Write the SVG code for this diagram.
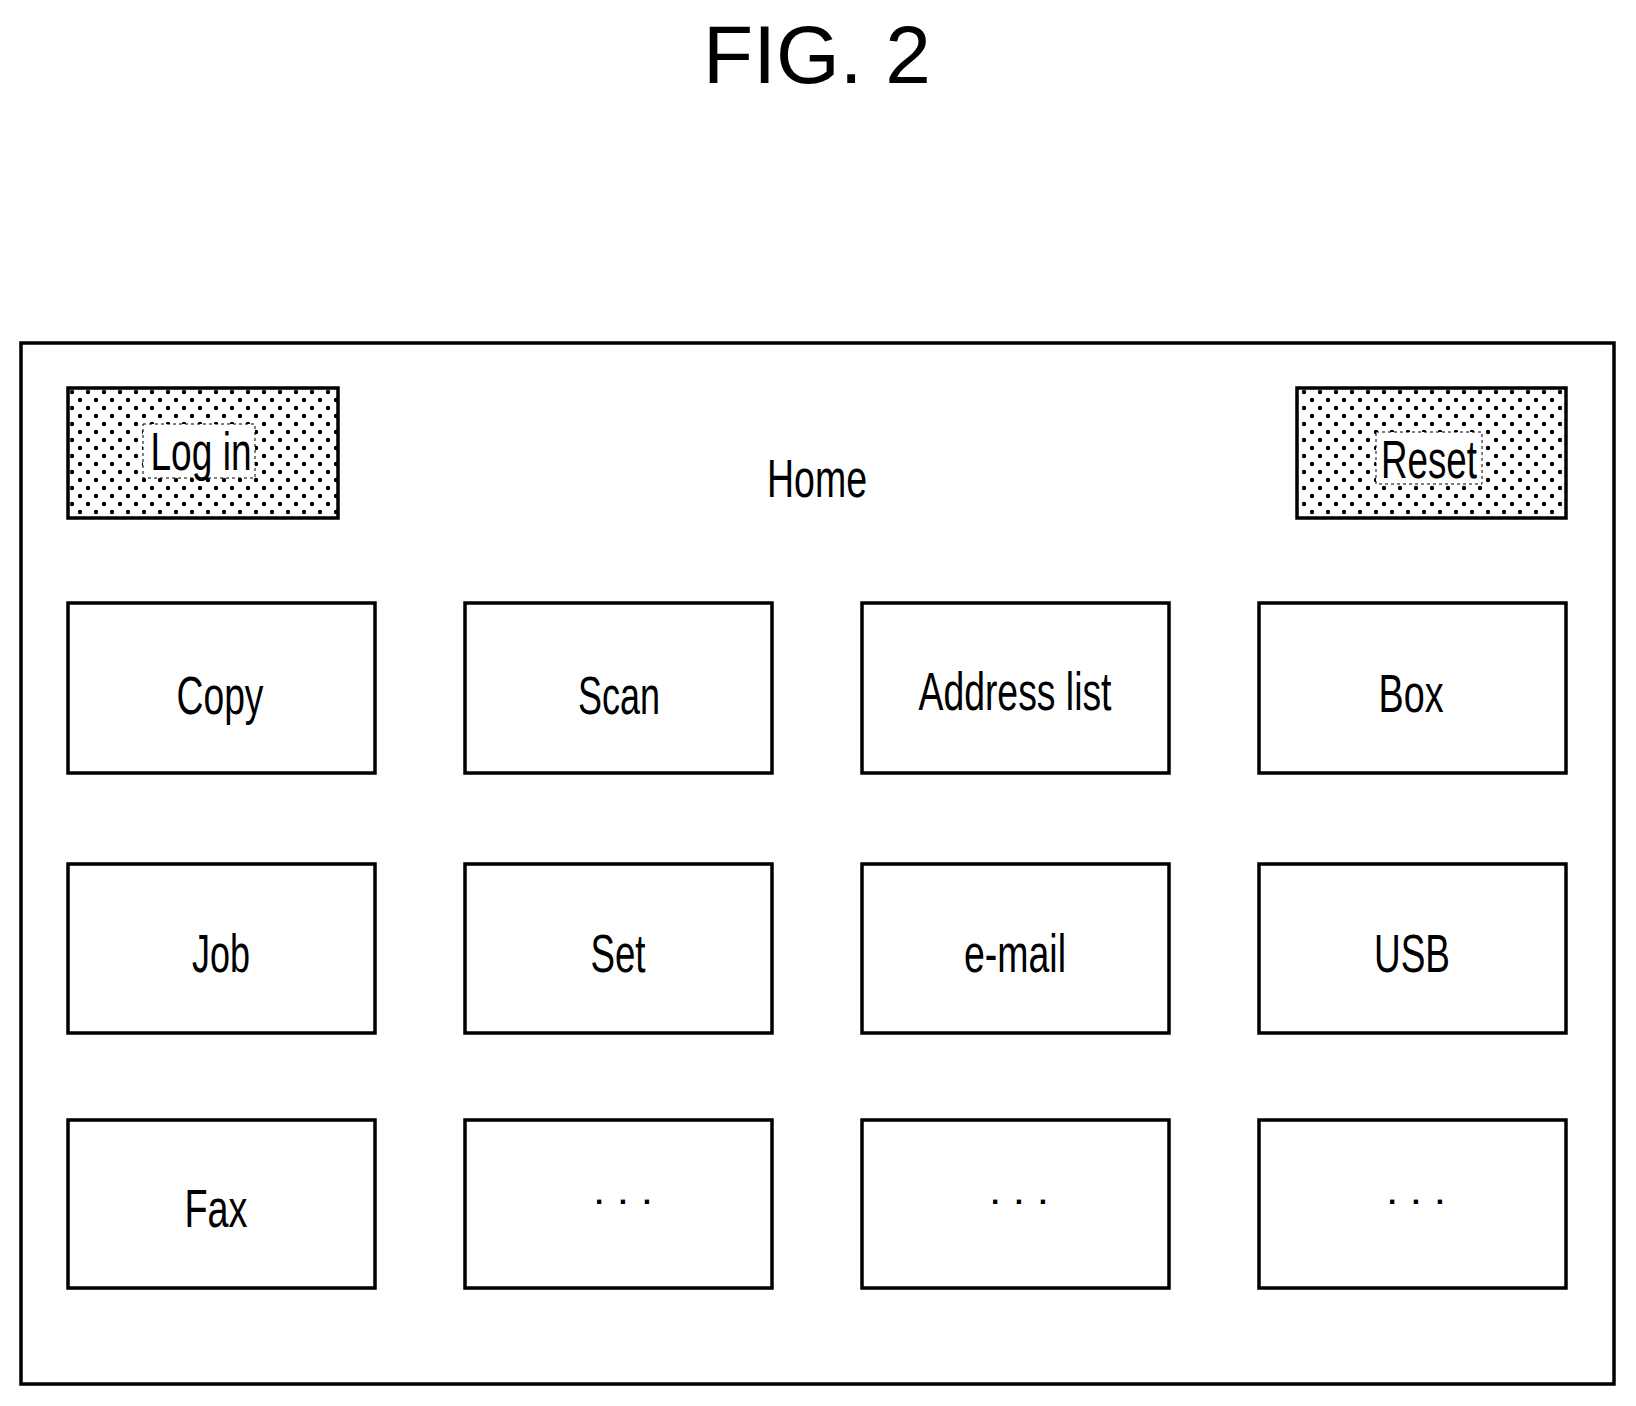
<svg xmlns="http://www.w3.org/2000/svg" width="1636" height="1406" viewBox="0 0 1636 1406">
<style>
.b{fill:#fff;stroke:#000;stroke-width:3.5}
.t{font-family:"Liberation Sans",Arial,sans-serif;font-size:53px;text-anchor:middle;fill:#000}
.d{font-family:"Liberation Sans",Arial,sans-serif;font-size:30px;font-weight:bold;text-anchor:middle;fill:#000}
.lb{fill:#fff;stroke:#000;stroke-width:1;stroke-dasharray:3 3}
</style>
<defs>
<pattern id="dots" width="16" height="16" patternUnits="userSpaceOnUse" x="68" y="388">
<rect width="16" height="16" fill="#fff"/>
<circle cx="4" cy="4" r="2.2" fill="#000"/>
<circle cx="12" cy="12" r="2.2" fill="#000"/>
</pattern>
</defs>
<rect width="1636" height="1406" fill="#fff"/>
<text x="817" y="83" style="font-family:'Liberation Sans',Arial,sans-serif;font-size:82px;text-anchor:middle">FIG. 2</text>
<g id="panel"><rect class="b" x="21" y="343" width="1593" height="1041"/>
<text class="t" x="817" y="497" textLength="100" lengthAdjust="spacingAndGlyphs">Home</text></g>
<g id="login"><rect x="68" y="388" width="270" height="130" fill="url(#dots)" stroke="#000" stroke-width="3.5"/>
<rect class="lb" x="143" y="424" width="112" height="54"/>
<text class="t" x="201" y="470" textLength="101" lengthAdjust="spacingAndGlyphs">Log in</text></g>
<g id="reset"><rect x="1297" y="388" width="269" height="130" fill="url(#dots)" stroke="#000" stroke-width="3.5"/>
<rect class="lb" x="1376" y="432" width="106" height="52"/>
<text class="t" x="1429" y="478" textLength="96" lengthAdjust="spacingAndGlyphs">Reset</text></g>
<g id="copy"><rect class="b" x="68" y="603" width="307" height="170"/><text class="t" x="220" y="714" textLength="87" lengthAdjust="spacingAndGlyphs">Copy</text></g>
<g id="scan"><rect class="b" x="465" y="603" width="307" height="170"/><text class="t" x="619" y="714" textLength="82" lengthAdjust="spacingAndGlyphs">Scan</text></g>
<g id="address"><rect class="b" x="862" y="603" width="307" height="170"/><text class="t" x="1015" y="710" textLength="193" lengthAdjust="spacingAndGlyphs">Address list</text></g>
<g id="box"><rect class="b" x="1259" y="603" width="307" height="170"/><text class="t" x="1411" y="712" textLength="65" lengthAdjust="spacingAndGlyphs">Box</text></g>
<g id="job"><rect class="b" x="68" y="864" width="307" height="169"/><text class="t" x="221" y="972" textLength="58" lengthAdjust="spacingAndGlyphs">Job</text></g>
<g id="set"><rect class="b" x="465" y="864" width="307" height="169"/><text class="t" x="618" y="972" textLength="55" lengthAdjust="spacingAndGlyphs">Set</text></g>
<g id="email"><rect class="b" x="862" y="864" width="307" height="169"/><text class="t" x="1015" y="972" textLength="102" lengthAdjust="spacingAndGlyphs">e-mail</text></g>
<g id="usb"><rect class="b" x="1259" y="864" width="307" height="169"/><text class="t" x="1412" y="972" textLength="76" lengthAdjust="spacingAndGlyphs">USB</text></g>
<g id="fax"><rect class="b" x="68" y="1120" width="307" height="168"/><text class="t" x="216" y="1227" textLength="63" lengthAdjust="spacingAndGlyphs">Fax</text></g>
<g id="more1"><rect class="b" x="465" y="1120" width="307" height="168"/><text class="d" x="623" y="1204" textLength="56" lengthAdjust="spacing">. . .</text></g>
<g id="more2"><rect class="b" x="862" y="1120" width="307" height="168"/><text class="d" x="1019" y="1204" textLength="56" lengthAdjust="spacing">. . .</text></g>
<g id="more3"><rect class="b" x="1259" y="1120" width="307" height="168"/><text class="d" x="1416" y="1204" textLength="56" lengthAdjust="spacing">. . .</text></g>
<g id="connectors"/>
</svg>
